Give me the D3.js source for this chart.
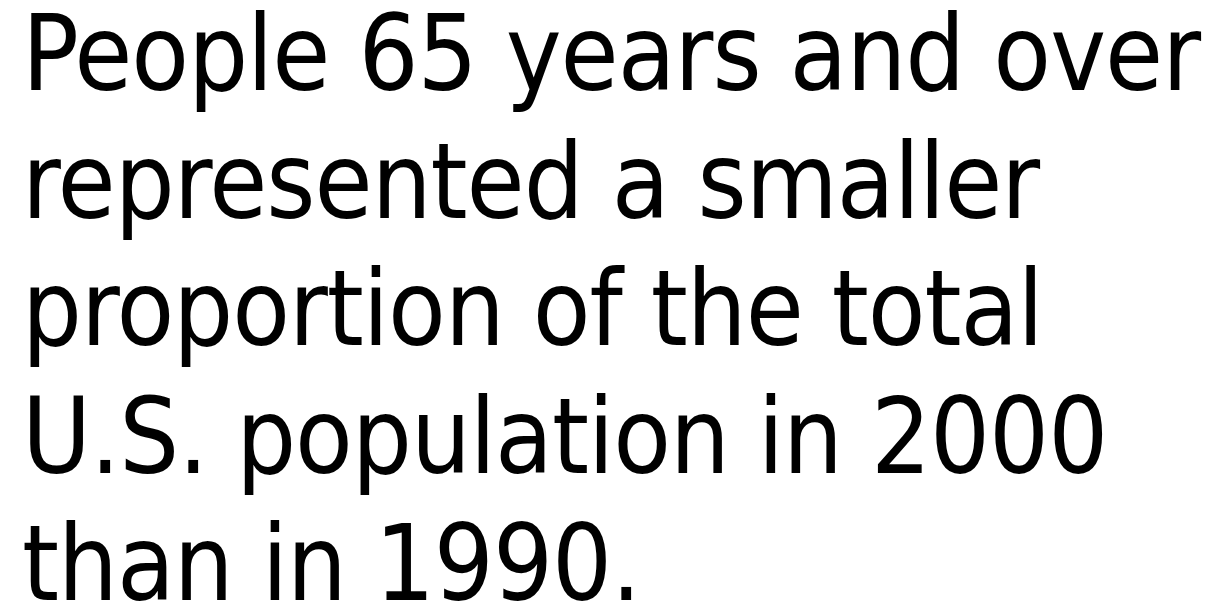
<!DOCTYPE html>
<html>
<head>
<meta charset="utf-8">
<script src="https://cdn.jsdelivr.net/npm/d3@7"></script>
<style>
  html, body { margin: 0; padding: 0; background: #fff; }
  svg { display: block; }
</style>
</head>
<body>
<svg width="1215" height="606"></svg>
<script>
var width = 1215;
var height = 606;
var margin = {left: 22, top: 90, bottom: 6};

// the slide text, one entry per line
var lines = [
  "People 65 years and over",
  "represented a smaller",
  "proportion of the total",
  "U.S. population in 2000",
  "than in 1990."
];
var lineIndex = d3.range(lines.length);

var svg = d3.select('svg');

// baseline for each line
var lineScale = d3.scaleLinear()
  .domain([0, lines.length - 1])
  .range([margin.top, height - margin.bottom]);

svg.selectAll('text.line')
  .data(lineIndex)
  .enter()
  .append('text')
  .attr('class', 'line')
  .attr('x', margin.left)
  .attr('y', function(i) { return lineScale(i); })
  .attr('fill', '#000')
  .style('font-family', '"DejaVu Sans Condensed", "DejaVu Sans", sans-serif')
  .style('font-stretch', 'condensed')
  .style('font-size', '105px')
  .style('letter-spacing', '-1px')
  .text(function(i) { return lines[i]; });
</script>
</body>
</html>
